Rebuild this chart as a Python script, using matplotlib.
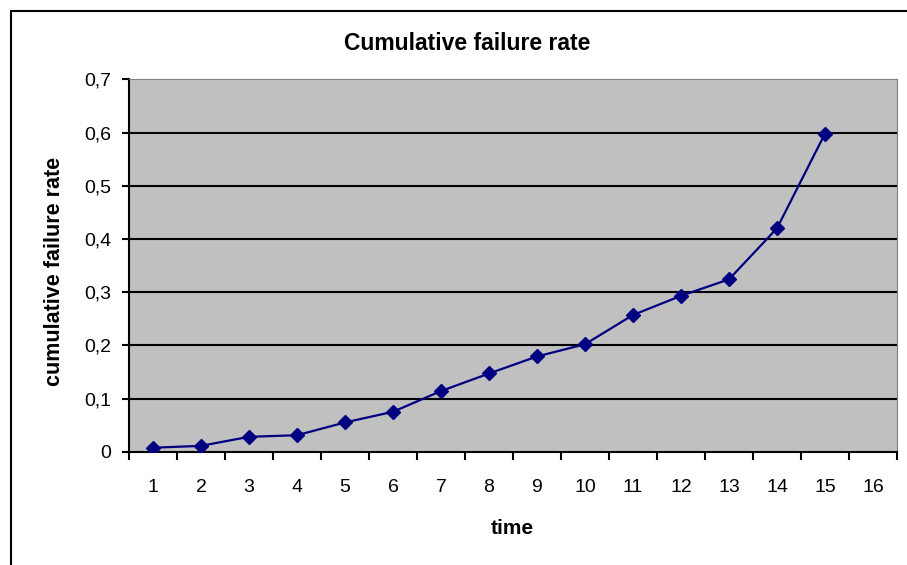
import matplotlib.pyplot as plt
from matplotlib.patches import Rectangle

plt.rcParams['font.family'] = ['Liberation Sans', 'DejaVu Sans']

# time steps and cumulative failure rate per step
time_steps = list(range(1, 17))
obs_time = list(range(1, 16))
failure_rate = [0.0075, 0.011, 0.028, 0.031, 0.055, 0.075, 0.114, 0.147,
                0.179, 0.202, 0.257, 0.293, 0.324, 0.420, 0.598]
y_ticks = [0, 0.1, 0.2, 0.3, 0.4, 0.5, 0.6, 0.7]
y_ticklabels = ['0', '0,1', '0,2', '0,3', '0,4', '0,5', '0,6', '0,7']

W, H = 907, 565
fig = plt.figure(figsize=(W / 100, H / 100), dpi=100)

# outer chart frame
fig.patches.append(Rectangle((11 / W, -0.1), 1.2, 1 - 11 / H + 0.1,
                             transform=fig.transFigure, fill=False,
                             edgecolor='black', linewidth=1.5))

ax = fig.add_axes([129 / W, 1 - 451.7 / H, (897 - 129) / W, (451.7 - 79.3) / H])
ax.set_facecolor('#C0C0C0')

for v in y_ticks[1:-1]:
    ax.axhline(v, color='black', linewidth=1.5, zorder=1)

ax.plot(obs_time, failure_rate, color='#000080', linewidth=1.6,
        marker='D', markersize=7.5, zorder=3)

ax.set_xlim(0.5, 16.5)
ax.set_ylim(0, 0.7)
ax.set_yticks(y_ticks)
ax.set_yticklabels(y_ticklabels, fontsize=14)

# category ticks sit between the categories, labels at the centres
ax.set_xticks([t + 0.5 for t in [0] + time_steps])
ax.set_xticklabels([])
ax.set_xticks(time_steps, minor=True)
ax.set_xticklabels([str(t) for t in time_steps], minor=True, fontsize=14)
ax.tick_params(axis='x', which='major', direction='out', length=6, width=1.5)
ax.tick_params(axis='x', which='minor', length=0, pad=20)
ax.tick_params(axis='y', direction='out', length=5, width=1.5, pad=8)

ax.spines['left'].set_linewidth(1.5)
ax.spines['bottom'].set_linewidth(1.5)
ax.spines['top'].set_color('#808080')
ax.spines['right'].set_color('#808080')

fig.text(55 / W, 1 - 271 / H, 'cumulative failure rate', rotation=90,
         ha='center', va='center', fontsize=15.5, fontweight='bold')
fig.text(512 / W, 1 - 529 / H, 'time', ha='center', va='center',
         fontsize=15, fontweight='bold')
fig.text(467 / W, 1 - 43 / H, 'Cumulative failure rate', ha='center', va='center',
         fontsize=16.5, fontweight='bold')

plt.savefig('out.png', dpi=100)
